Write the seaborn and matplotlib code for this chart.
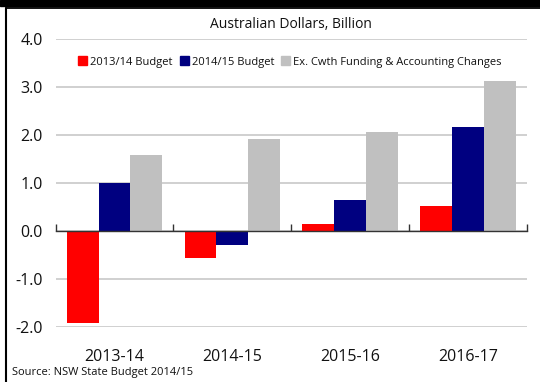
import matplotlib
matplotlib.use("Agg")
import matplotlib.pyplot as plt
from matplotlib.patches import Rectangle
from matplotlib.lines import Line2D
import seaborn as sns
import pandas as pd

years = ["2013-14", "2014-15", "2015-16", "2016-17"]
series = ["2013/14 Budget", "2014/15 Budget", "Ex. Cwth Funding & Accounting Changes"]
budget_2013_14 = [-1.92, -0.56, 0.15, 0.52]
budget_2014_15 = [1.01, -0.29, 0.65, 2.16]
ex_cwth = [1.58, 1.91, 2.07, 3.12]
colors = ["#ff0000", "#000080", "#c0c0c0"]
yticks = [-2.0, -1.0, 0.0, 1.0, 2.0, 3.0, 4.0]

rows = []
for name, vals in zip(series, [budget_2013_14, budget_2014_15, ex_cwth]):
    for y, v in zip(years, vals):
        rows.append({"Year": y, "Series": name, "Value": v})
df = pd.DataFrame(rows)

sns.set_style("white")
plt.rcParams["font.family"] = ["Open Sans", "DejaVu Sans"]

W, H = 540, 382
fig = plt.figure(figsize=(W / 100, H / 100), dpi=100)
ax = fig.add_axes([55.7 / W, 1 - 327 / H, (526.7 - 55.7) / W, (327 - 39) / H])

sns.barplot(data=df, x="Year", y="Value", hue="Series", palette=colors,
            width=0.81, saturation=1, linewidth=0, ax=ax, legend=False, zorder=3)

ax.set_ylim(-2, 4)
ax.set_xlim(-0.5, 3.5)
ax.set_yticks(yticks)
ax.set_yticklabels([f"{t:.1f}" for t in yticks], fontsize=11.5, color="#111111")
ax.set_xlabel("")
ax.set_ylabel("")
ax.tick_params(axis="x", length=0, labelsize=11.5, pad=16, labelcolor="#111111")
ax.tick_params(axis="y", length=0, pad=9.5)
for s in ax.spines.values():
    s.set_visible(False)
ax.yaxis.grid(True, color="#c8c8c8", lw=1.2, zorder=0)
ax.xaxis.grid(False)

# zero line with category boundary ticks
zero = ax.secondary_xaxis(2 / 6)
zero.set_xticks([-0.5, 0.5, 1.5, 2.5, 3.5])
zero.tick_params(direction="in", length=5, width=1.0, color="#333333", labelbottom=False)
zero.set_xticklabels([])
zero.spines["bottom"].set_color("#333333")
zero.spines["bottom"].set_linewidth(1.0)
zero.set_zorder(5)

ax.set_title("Australian Dollars, Billion", fontsize=10, pad=8, color="#111111")

handles = [Rectangle((0, 0), 1, 1, color=c) for c in colors]
fig.legend(handles, series, loc="center", bbox_to_anchor=(290 / W, 1 - 62 / H),
           ncol=3, frameon=False, fontsize=8, handlelength=0.8, handleheight=0.8,
           handletextpad=0.3, columnspacing=0.6, borderpad=0, labelcolor="#111111")

fig.text(12 / W, 1 - 372 / H, "Source: NSW State Budget 2014/15", fontsize=8,
         va="center", ha="left", color="#111111")

# page frame
fig.patches.append(Rectangle((0, 1 - 5.7 / H), 1, 5.7 / H, transform=fig.transFigure,
                             color="black", zorder=10))
fig.lines.append(Line2D([5.5 / W, 1], [1 - 8 / H, 1 - 8 / H], transform=fig.transFigure,
                        color="black", lw=1.3))
fig.lines.append(Line2D([5.5 / W, 5.5 / W], [0, 1 - 8 / H], transform=fig.transFigure,
                        color="black", lw=1.5))

fig.savefig("out.png", dpi=100)
